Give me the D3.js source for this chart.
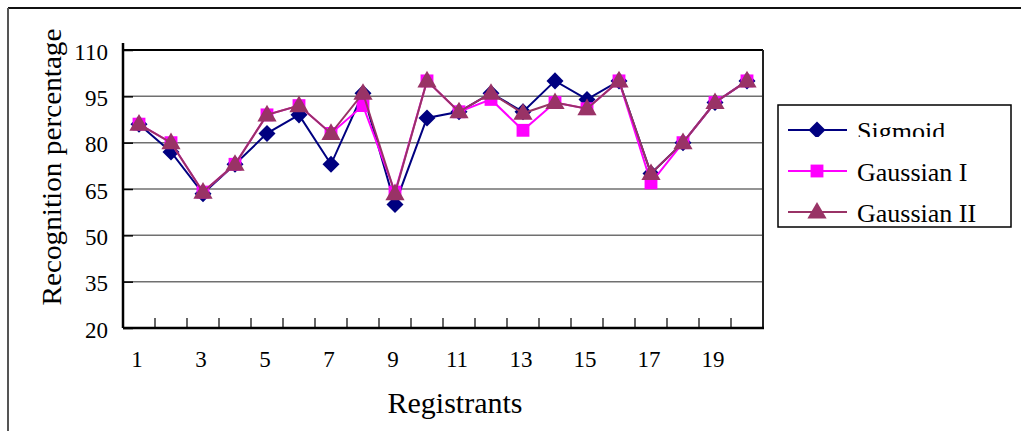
<!DOCTYPE html>
<html>
<head>
<meta charset="utf-8">
<script src="https://cdn.jsdelivr.net/npm/d3@7"></script>
<style>
  body { margin: 0; background: #fff; }
  svg text { font-family: "Liberation Serif", "DejaVu Serif", serif; fill: #000; }
</style>
</head>
<body>
<svg id="chart" width="1022" height="431"></svg>
<script>
// data
const registrants = d3.range(1, 21);
const sigmoid   = [86, 77, 63.5, 73, 83, 89, 73, 96, 60, 88, 90, 96, 90, 100, 94, 100, 70, 80, 93, 100];
const gaussian1 = [86, 80, 64, 73, 89, 92, 83, 92, 64, 100, 90, 94, 84, 93, 91, 100, 67, 80, 93, 100];
const gaussian2 = [86, 80, 64, 73, 89, 92, 83, 96, 63.5, 100, 90, 96, 89.5, 93, 91, 100, 70, 80, 93, 100];
const yTicks = [20, 35, 50, 65, 80, 95, 110];

const seriesNames = ['Sigmoid', 'Gaussian I', 'Gaussian II'];
const seriesValues = [sigmoid, gaussian1, gaussian2];
const colors = ['#000080', '#ff00ff', '#993366'];
const symbols = [d3.symbolDiamond2, d3.symbolSquare, d3.symbolTriangle];
const symbolSizes = [185, 165, 160];

const margin = { top: 50, left: 123, right: 259, bottom: 103 };
const width = 1022, height = 431;
const serif = '"Liberation Serif", "DejaVu Serif", serif';

const svg = d3.select('#chart');

// outer frame: only top and left edge show
svg.append('line').attr('x1', 8).attr('x2', 1021).attr('y1', 8).attr('y2', 8)
   .attr('stroke', '#111').attr('stroke-width', 2);
svg.append('line').attr('x1', 8).attr('x2', 8).attr('y1', 8).attr('y2', 431)
   .attr('stroke', '#555').attr('stroke-width', 2);

const x = d3.scaleBand()
            .domain(registrants)
            .range([margin.left, width - margin.right]);

const y = d3.scaleLinear()
            .domain([20, 110])
            .range([height - margin.bottom, margin.top]);

const plot = svg.append('g').attr('id', 'plot');

// grid lines
plot.selectAll('.grid')
    .data(yTicks.filter(d => d > 20))
    .enter().append('line')
    .attr('x1', margin.left).attr('x2', width - margin.right)
    .attr('y1', d => y(d)).attr('y2', d => y(d))
    .attr('stroke', d => d === 110 ? '#000' : '#707070')
    .attr('stroke-width', d => d === 110 ? 2 : 1.5);

// right frame edge
plot.append('line')
    .attr('x1', width - margin.right).attr('x2', width - margin.right)
    .attr('y1', y(110)).attr('y2', y(20))
    .attr('stroke', '#222').attr('stroke-width', 2);

// y axis
const yAxis = d3.axisLeft(y).tickValues(yTicks).tickSize(-10).tickPadding(15);
const yg = plot.append('g')
               .attr('transform', 'translate(' + margin.left + ',0)')
               .call(yAxis)
               .attr('font-family', serif);
yg.select('.domain').attr('stroke', '#000').attr('stroke-width', 2.5)
  .attr('d', 'M0,' + (y(110) - 7) + 'V' + y(20));
yg.selectAll('.tick line').attr('stroke', '#000').attr('stroke-width', 1.5);
yg.selectAll('.tick text')
  .attr('x', -15)
  .attr('dy', '0.4em')
  .attr('font-family', serif)
  .style('font-size', '23px').attr('fill', '#000');

// x axis: ticks at category edges, labels on odd categories
const xg = plot.append('g')
               .attr('transform', 'translate(0,' + y(20) + ')');
xg.append('line')
  .attr('x1', margin.left).attr('x2', width - margin.right + 1)
  .attr('stroke', '#000').attr('stroke-width', 2.5);
xg.selectAll('.xtick')
  .data(registrants.slice(1))
  .enter().append('line')
  .attr('x1', d => x(d)).attr('x2', d => x(d))
  .attr('y1', 0).attr('y2', -10)
  .attr('stroke', '#000').attr('stroke-width', 1.2);
xg.selectAll('.xlabel')
  .data(registrants.filter(d => d % 2 === 1))
  .enter().append('text')
  .attr('x', d => x(d) + x.bandwidth() / 2 - 2)
  .attr('y', 39)
  .attr('text-anchor', 'middle')
  .attr('font-family', serif)
  .style('font-size', '23px')
  .text(d => d);

// titles
svg.append('text')
   .attr('x', 455)
   .attr('y', 413)
   .attr('text-anchor', 'middle')
   .attr('font-family', serif)
   .style('font-size', '30px')
   .text('Registrants');

svg.append('text')
   .attr('transform', 'translate(61,167) rotate(-90)')
   .attr('text-anchor', 'middle')
   .attr('font-family', serif)
   .style('font-size', '28px')
   .attr('textLength', 277)
   .attr('lengthAdjust', 'spacingAndGlyphs')
   .text('Recognition percentage');

// series
const line = d3.line()
               .x((d, i) => x(registrants[i]) + x.bandwidth() / 2)
               .y(d => y(d));

seriesValues.forEach((vals, s) => {
  const g = plot.append('g').attr('class', 'series');
  g.append('path')
   .attr('d', line(vals))
   .attr('fill', 'none')
   .attr('stroke', colors[s])
   .attr('stroke-width', 2);
  g.selectAll('path.mark')
   .data(vals)
   .enter().append('path')
   .attr('class', 'mark')
   .attr('transform', (d, i) => 'translate(' + (x(registrants[i]) + x.bandwidth() / 2) + ',' + (y(d) + (s === 2 ? 1 : 0)) + ')')
   .attr('d', d3.symbol().type(symbols[s]).size(symbolSizes[s]))
   .attr('fill', colors[s]);
});

// legend
const legend = svg.append('g').attr('id', 'legend');
legend.append('rect')
      .attr('x', 778).attr('y', 105).attr('width', 233).attr('height', 122)
      .attr('fill', '#fff').attr('stroke', '#000').attr('stroke-width', 1.5);

const rowY = [130, 171, 212];
const clipBottom = [137, 181, 224];
seriesNames.forEach((name, s) => {
  const clipId = 'clip' + s;
  legend.append('clipPath').attr('id', clipId)
        .append('rect')
        .attr('x', 779).attr('y', rowY[s] - 30)
        .attr('width', 231).attr('height', clipBottom[s] - rowY[s] + 30);
  const row = legend.append('g').attr('clip-path', 'url(#' + clipId + ')');
  row.append('line')
     .attr('x1', 788).attr('x2', 847).attr('y1', rowY[s]).attr('y2', rowY[s])
     .attr('stroke', colors[s]).attr('stroke-width', 2);
  row.append('path')
     .attr('transform', 'translate(817,' + (rowY[s] + (s === 2 ? 1 : 0)) + ')')
     .attr('d', d3.symbol().type(symbols[s]).size(symbolSizes[s]))
     .attr('fill', colors[s]);
  row.append('text')
     .attr('x', 857).attr('y', rowY[s] + 10)
     .attr('font-family', serif)
     .style('font-size', '26px')
     .text(name);
});
</script>
</body>
</html>
